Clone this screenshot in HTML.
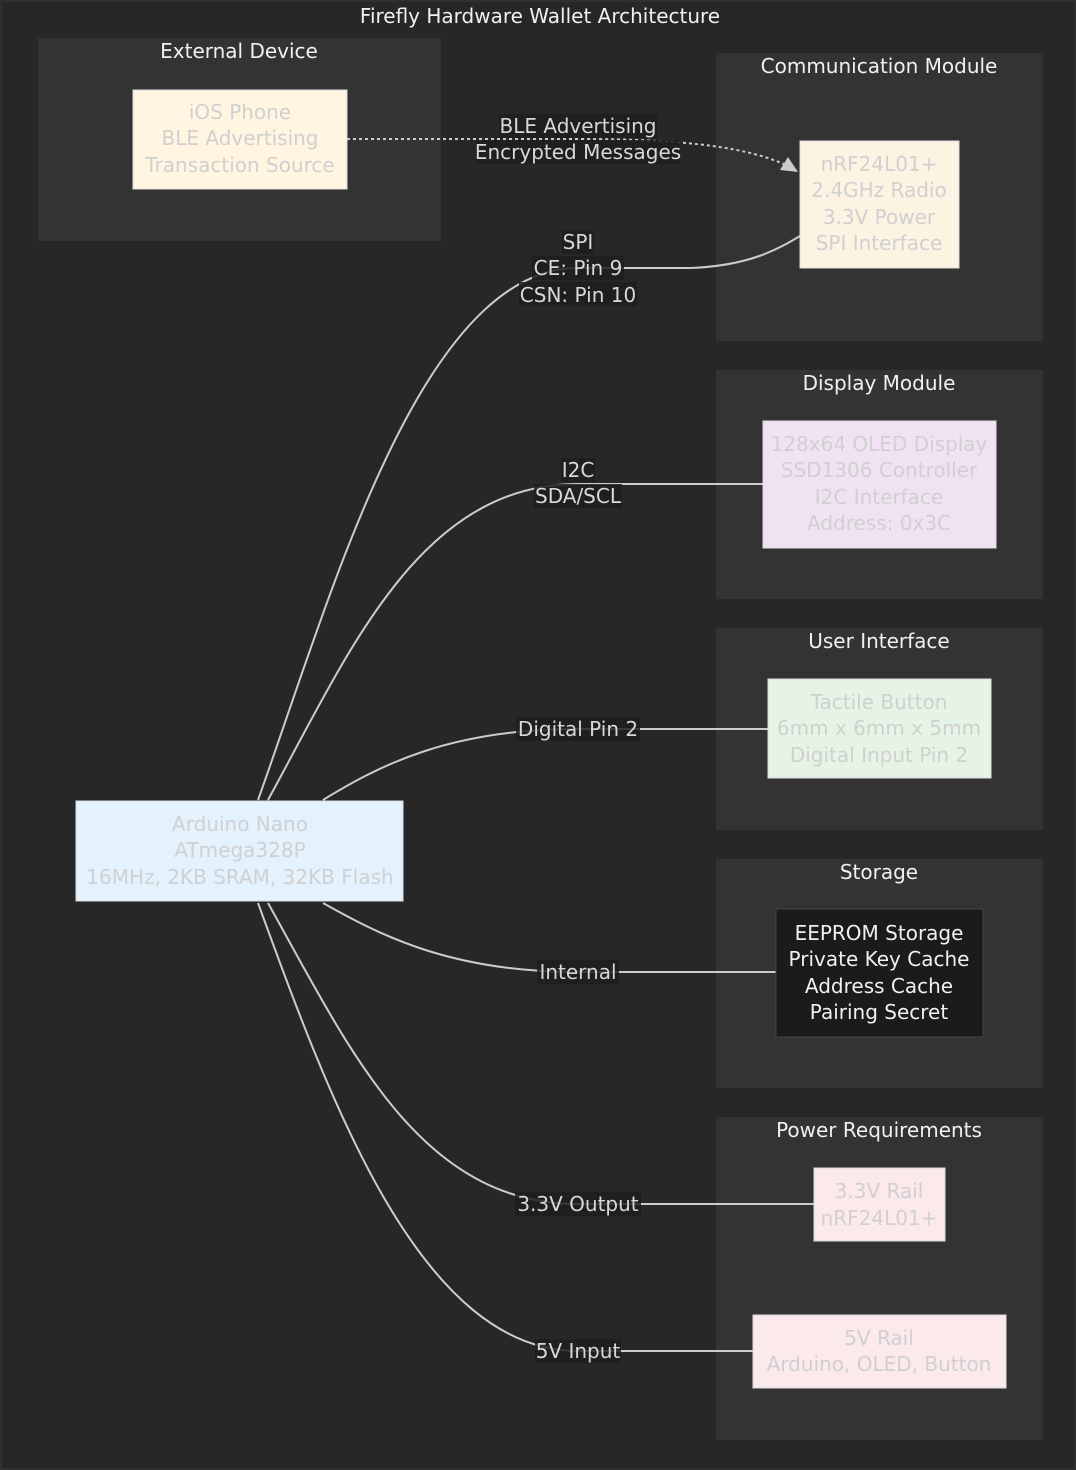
<!DOCTYPE html>
<html><head><meta charset="utf-8"><style>
html,body{margin:0;padding:0;background:#272727;}
svg{display:block;font-family:"DejaVu Sans","Liberation Sans",sans-serif;}
</style></head><body>
<svg width="1076" height="1470" viewBox="0 0 1076 1470" xmlns="http://www.w3.org/2000/svg">
<rect x="0" y="0" width="1076" height="1470" fill="#272727"/>
<rect x="1" y="1" width="1074" height="1468" fill="none" stroke="#3a3a3a"/>
<g fill="#333333">
<rect x="38" y="38" width="403" height="203"/>
<rect x="716" y="53" width="327" height="288"/>
<rect x="716" y="370" width="327" height="229"/>
<rect x="716" y="628" width="327" height="202"/>
<rect x="716" y="859" width="327" height="229"/>
<rect x="716" y="1117" width="327" height="323"/>
</g>
<g fill="#f0f0f0" font-size="20" text-anchor="middle">
<text x="540" y="23">Firefly Hardware Wallet Architecture</text>
<text x="239" y="58">External Device</text>
<text x="879" y="73">Communication Module</text>
<text x="879" y="390">Display Module</text>
<text x="879" y="648">User Interface</text>
<text x="879" y="879">Storage</text>
<text x="879" y="1137">Power Requirements</text>
</g>
<g fill="none" stroke="#cccccc" stroke-width="2">
<path d="M258,800 C330,600 420,268 578,268 L690,268 C750,266 780,248 800,236"/>
<path d="M268,800 C350,650 420,484 578,484 L763,484"/>
<path d="M323,800 C380,765 450,729 578,729 L768,729"/>
<path d="M323,903 C380,935 450,972 578,972 L776,972"/>
<path d="M268,903 C350,1050 420,1204 578,1204 L814,1204"/>
<path d="M258,903 C330,1100 420,1351 578,1351 L753,1351"/>
<path d="M347,139 L578,139 C690,139 750,148 788,166" stroke-dasharray="3,3"/>
</g>
<polygon points="798,172 780,170 788,157" fill="#cccccc"/>
<g>
<rect x="133" y="90" width="214" height="99" fill="#fff5e0" stroke="#ddd"/>
<rect x="800" y="141" width="159" height="127" fill="#fdf3e2" stroke="#ddd"/>
<rect x="763" y="421" width="233" height="127" fill="#f0e2f2" stroke="#ddd"/>
<rect x="768" y="679" width="223" height="99" fill="#e6f4e6" stroke="#ddd"/>
<rect x="776" y="909" width="207" height="128" fill="#1b1b1b" stroke="#444"/>
<rect x="814" y="1168" width="131" height="73" fill="#fbe9ec" stroke="#ddd"/>
<rect x="753" y="1315" width="253" height="73" fill="#fbe9ec" stroke="#ddd"/>
<rect x="76" y="801" width="327" height="100" fill="#e3f2fd" stroke="#ddd"/>
</g>
<g fill="#d0d0d0" font-size="20" text-anchor="middle">
<text x="240" y="119">iOS Phone</text><text x="240" y="145">BLE Advertising</text><text x="240" y="172">Transaction Source</text>
<text x="879" y="171">nRF24L01+</text><text x="879" y="197">2.4GHz Radio</text><text x="879" y="224">3.3V Power</text><text x="879" y="250">SPI Interface</text>
<text x="879" y="451">128x64 OLED Display</text><text x="879" y="477">SSD1306 Controller</text><text x="879" y="504">I2C Interface</text><text x="879" y="530">Address: 0x3C</text>
<text x="879" y="709">Tactile Button</text><text x="879" y="735">6mm x 6mm x 5mm</text><text x="879" y="762">Digital Input Pin 2</text>
<text x="879" y="1198">3.3V Rail</text><text x="879" y="1225">nRF24L01+</text>
<text x="879" y="1345">5V Rail</text><text x="879" y="1371">Arduino, OLED, Button</text>
<text x="240" y="831">Arduino Nano</text><text x="240" y="857">ATmega328P</text><text x="240" y="884">16MHz, 2KB SRAM, 32KB Flash</text>
</g>
<g fill="#f0f0f0" font-size="20" text-anchor="middle">
<text x="879" y="940">EEPROM Storage</text><text x="879" y="966">Private Key Cache</text><text x="879" y="993">Address Cache</text><text x="879" y="1019">Pairing Secret</text>
</g>
<g fill="#1e1e1e" opacity="0.85">
<rect x="499" y="114" width="158" height="24"/><rect x="476" y="140" width="204" height="24"/>
<rect x="562" y="230" width="32" height="24"/><rect x="532" y="256" width="92" height="24"/><rect x="519" y="282" width="118" height="24"/>
<rect x="561" y="458" width="34" height="24"/><rect x="534" y="484" width="88" height="24"/>
<rect x="516" y="717" width="124" height="24"/>
<rect x="537" y="960" width="82" height="24"/>
<rect x="515" y="1192" width="126" height="24"/>
<rect x="535" y="1339" width="86" height="24"/>
</g>
<g fill="#d8d8d8" font-size="20" text-anchor="middle">
<text x="578" y="133">BLE Advertising</text><text x="578" y="159">Encrypted Messages</text>
<text x="578" y="249">SPI</text><text x="578" y="275">CE: Pin 9</text><text x="578" y="302">CSN: Pin 10</text>
<text x="578" y="477">I2C</text><text x="578" y="503">SDA/SCL</text>
<text x="578" y="736">Digital Pin 2</text>
<text x="578" y="979">Internal</text>
<text x="578" y="1211">3.3V Output</text>
<text x="578" y="1358">5V Input</text>
</g>
</svg>
</body></html>
